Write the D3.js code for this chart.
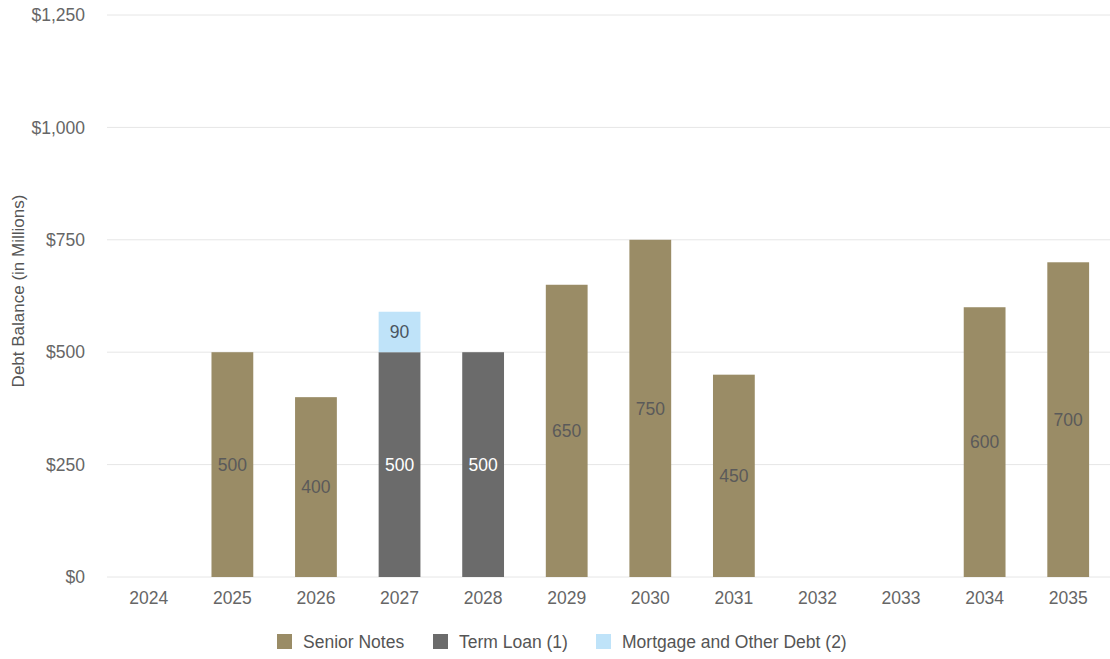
<!DOCTYPE html>
<html><head><meta charset="utf-8">
<script src="https://cdn.jsdelivr.net/npm/d3@7/dist/d3.min.js"></script>
<style>body{margin:0;background:#fff;font-family:"Liberation Sans",Arial,sans-serif;}</style>
</head><body><svg id="c" width="1110" height="659"></svg>
<script>
const years = ["2024","2025","2026","2027","2028","2029","2030","2031","2032","2033","2034","2035"];
const seniorNotes = [0,500,400,0,0,650,750,450,0,0,600,700];
const termLoan = [0,0,0,500,500,0,0,0,0,0,0,0];
const mortgage = [0,0,0,90,0,0,0,0,0,0,0,0];
const seriesNames = ["Senior Notes","Term Loan (1)","Mortgage and Other Debt (2)"];
const yTicks = [0,250,500,750,1000,1250];

(function(){
const colors = ["#9a8c66","#6b6b6b","#bfe3f9"];
const labelColors = ["#5a5a5a","#ffffff","#4a5560"];
const FS = 17.5;
const svg = d3.select("#c");
const pL=107,pR=1110,pT=15,pB=577;
const x = d3.scaleBand().domain(years).range([pL,pR]).paddingInner(0.5).paddingOuter(0.25);
const y = d3.scaleLinear().domain([0,1250]).range([pB,pT]);

svg.append("g").selectAll("line").data(yTicks).join("line")
  .attr("x1",pL).attr("x2",pR).attr("y1",d=>y(d)).attr("y2",d=>y(d))
  .attr("stroke","#e6e6e6").attr("stroke-width",1);

const yAxis = svg.append("g").attr("transform",`translate(${pL-19},0)`)
  .call(d3.axisLeft(y).tickValues(yTicks).tickSize(0).tickFormat(d=>"$"+d3.format(",")(d)));
yAxis.select(".domain").remove();
yAxis.selectAll("text").attr("font-size",FS).attr("fill","#666").attr("font-family","Liberation Sans, Arial, sans-serif");

const xAxis = svg.append("g").attr("transform",`translate(0,${pB+12})`)
  .call(d3.axisBottom(x).tickSize(0));
xAxis.select(".domain").remove();
xAxis.selectAll("text").attr("font-size",FS).attr("fill","#666").attr("font-family","Liberation Sans, Arial, sans-serif");

const data = years.map((yr,i)=>({year:yr, s0:seniorNotes[i], s1:termLoan[i], s2:mortgage[i]}));
const stack = d3.stack().keys(["s0","s1","s2"])(data);
stack.forEach((layer,k)=>{
  const g = svg.append("g");
  const seg = layer.filter(d=>d[1]-d[0]>0);
  g.selectAll("rect").data(seg).join("rect")
    .attr("x",d=>x(d.data.year)).attr("width",x.bandwidth())
    .attr("y",d=>y(d[1])).attr("height",d=>y(d[0])-y(d[1]))
    .attr("fill",colors[k]);
  g.selectAll("text").data(seg).join("text")
    .attr("x",d=>x(d.data.year)+x.bandwidth()/2)
    .attr("y",d=>(y(d[0])+y(d[1]))/2)
    .attr("dy","0.35em").attr("text-anchor","middle")
    .attr("font-size",FS).attr("fill",labelColors[k])
    .text(d=>d[1]-d[0]);
});

svg.append("text").attr("transform","translate(24,291) rotate(-90)")
  .attr("text-anchor","middle").attr("font-size",17).attr("fill","#555")
  .text("Debt Balance (in Millions)");

const legX = [277,433,596];
const lg = svg.append("g");
seriesNames.forEach((n,k)=>{
  lg.append("rect").attr("x",legX[k]).attr("y",634).attr("width",15).attr("height",15).attr("fill",colors[k]);
  lg.append("text").attr("x",legX[k]+26).attr("y",641.5).attr("dy","0.35em")
    .attr("font-size",FS).attr("fill","#555").text(n);
});
})();
</script></body></html>
